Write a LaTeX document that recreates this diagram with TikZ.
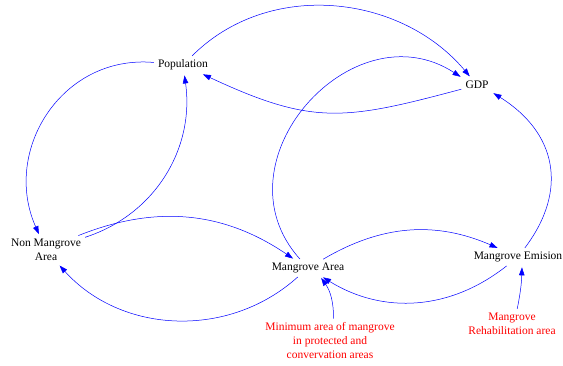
\documentclass[tikz,border=0pt]{standalone}
\usepackage{fontspec}
\setmainfont{Liberation Serif}
\usepackage{tikz}
\usetikzlibrary{arrows.meta,positioning}

\begin{document}
\begin{tikzpicture}[x=1pt,y=1pt,shorten >=2pt,shorten <=1pt,on grid,
    >={Triangle[length=8pt,width=5.5pt]},line width=0.5pt,
    every node/.style={font=\fontsize{11.5}{14}\selectfont,align=center,inner sep=3pt}]
   \useasboundingbox (0,0) rectangle (563,365);
   \node (pop) at (183,300) {Population};
   \node (gdp) [below right=20pt and 294pt of pop] {GDP};
   \node (nma) [below left=185pt and 137pt of pop] {Non Mangrove\\Area};
   \node (ma)  [below right=18pt and 262pt of nma] {Mangrove Area};
   \node (me)  [above right=11pt and 210pt of ma] {Mangrove Emision};
   \node[text=red] (minarea) [below right=73pt and 22pt of ma] {Minimum area of mangrove\\in protected and\\convervation areas};
   \node[text=red] (rehab) [below left=67pt and 6pt of me] {Mangrove\\Rehabilitation area};
    \path[->,blue]
    (pop) edge[out=45,in=130] (gdp)
    (gdp) edge[out=195,in=335,looseness=1.2] (pop)
    (pop) edge[out=175,in=114,looseness=1.15] (nma)
    (nma) edge[out=18,in=-82] (pop)
    (nma) edge[bend left=28] (ma)
    (ma) edge[bend left=45] (nma)
    (ma) edge[out=132,in=147,looseness=1.38] (gdp.north west)
    (ma) edge[bend left=27] (me)
    (me) edge[bend left=35] (ma)
    (me) edge[out=53,in=-32,looseness=1.2] (gdp.south east)
    (minarea) edge[bend right=18] ([xshift=12pt]ma.south)
    ([xshift=5pt]rehab.north) edge[bend right=5] ([xshift=4pt]me.south);
\end{tikzpicture}
\end{document}
